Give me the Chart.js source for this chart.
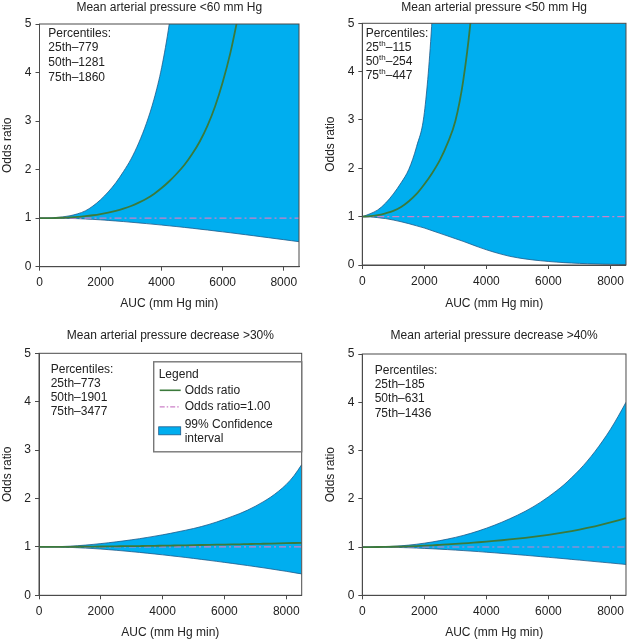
<!DOCTYPE html>
<html>
<head>
<meta charset="utf-8">
<script src="https://cdn.jsdelivr.net/npm/chart.js@4.4.1/dist/chart.umd.min.js"></script>
<style>
  body { margin: 0; background: #fff; }
  #wrap { position: relative; width: 629px; height: 640px; }
  .panel { position: absolute; }
</style>
</head>
<body>
<div id="wrap">
  <div class="panel" style="left:0;top:0;width:314px;height:320px"><canvas id="c1"></canvas></div>
  <div class="panel" style="left:314px;top:0;width:315px;height:320px"><canvas id="c2"></canvas></div>
  <div class="panel" style="left:0;top:320px;width:314px;height:320px"><canvas id="c3"></canvas></div>
  <div class="panel" style="left:314px;top:320px;width:315px;height:320px"><canvas id="c4"></canvas></div>
</div>
<script>
// AUC grid (mm Hg min) shared by all four panels
const auc = [0, 250, 500, 750, 1000, 1250, 1500, 1750, 2000, 2250, 2500, 2750, 3000, 3250, 3500, 3750, 4000,
  4250, 4500, 4750, 5000, 5250, 5500, 5750, 6000, 6250, 6500, 6750, 7000, 7250, 7500, 7750, 8000, 8250, 8500];

// MAP < 60 mm Hg
const below60Odds = [1, 1, 1.003, 1.008, 1.015, 1.025, 1.04, 1.06, 1.085, 1.115, 1.15, 1.195, 1.25, 1.32, 1.4, 1.5, 1.62,
  1.76, 1.92, 2.1, 2.32, 2.58, 2.9, 3.3, 3.8, 4.4, 5.15, 6.0, 7.1, 8.4, 10, 12, 14.5, 17.5, 21];
const below60Upper = [1, 1, 1.01, 1.025, 1.05, 1.09, 1.15, 1.25, 1.38, 1.54, 1.73, 1.96, 2.22, 2.55, 2.95, 3.45, 4.1,
  5.0, 6.2, 7.8, 10, 13, 17, 22, 28, 36, 46, 58, 73, 92, 115, 145, 180, 225, 280];
const below60Lower = [1, 1, 0.999, 0.997, 0.994, 0.99, 0.983, 0.975, 0.965, 0.954, 0.942, 0.93, 0.916, 0.902, 0.888, 0.873, 0.858,
  0.842, 0.826, 0.809, 0.792, 0.774, 0.756, 0.737, 0.718, 0.699, 0.679, 0.659, 0.639, 0.618, 0.598, 0.577, 0.557, 0.536, 0.515];

// MAP < 50 mm Hg
const below50Odds = [1, 1.01, 1.03, 1.07, 1.12, 1.2, 1.32, 1.47, 1.67, 1.9, 2.17, 2.52, 2.98, 3.8, 5.1, 7.0, 9.5,
  12.5, 16.5, 21, 27, 34, 43, 54, 68, 85, 105, 130, 160, 200, 250, 310, 380, 470, 580];
const below50Upper = [1, 1.06, 1.14, 1.28, 1.47, 1.7, 1.98, 2.45, 3.15, 5.1, 8.5, 13.5, 20, 28, 40, 55, 70,
  90, 110, 135, 160, 190, 220, 260, 300, 350, 400, 450, 500, 560, 620, 680, 750, 820, 900];
const below50Lower = [1, 0.995, 0.98, 0.96, 0.93, 0.895, 0.855, 0.81, 0.765, 0.71, 0.655, 0.6, 0.545, 0.49, 0.43, 0.37, 0.315,
  0.265, 0.22, 0.18, 0.15, 0.125, 0.105, 0.088, 0.073, 0.06, 0.049, 0.04, 0.033, 0.027, 0.022, 0.018, 0.015, 0.012, 0.01];

// MAP decrease > 30%
const drop30Odds = [1, 1, 1, 1.001, 1.002, 1.003, 1.004, 1.006, 1.008, 1.01, 1.012, 1.014, 1.016, 1.018, 1.02, 1.023, 1.025,
  1.028, 1.03, 1.033, 1.036, 1.039, 1.042, 1.045, 1.048, 1.051, 1.054, 1.058, 1.061, 1.065, 1.069, 1.073, 1.077, 1.081, 1.085];
const drop30Upper = [1, 1, 1.003, 1.008, 1.015, 1.025, 1.037, 1.052, 1.068, 1.086, 1.105, 1.125, 1.147, 1.17, 1.195, 1.222, 1.25,
  1.28, 1.313, 1.345, 1.38, 1.42, 1.465, 1.515, 1.57, 1.63, 1.69, 1.76, 1.84, 1.93, 2.03, 2.15, 2.29, 2.47, 2.7];
const drop30Lower = [1, 1, 0.998, 0.994, 0.99, 0.983, 0.975, 0.966, 0.955, 0.943, 0.93, 0.916, 0.901, 0.886, 0.87, 0.853, 0.836,
  0.818, 0.8, 0.781, 0.762, 0.742, 0.722, 0.701, 0.68, 0.659, 0.637, 0.615, 0.592, 0.569, 0.545, 0.52, 0.495, 0.468, 0.442];

// MAP decrease > 40%
const drop40Odds = [1, 1, 1.001, 1.003, 1.006, 1.01, 1.015, 1.021, 1.028, 1.036, 1.045, 1.054, 1.064, 1.075, 1.087, 1.099, 1.112,
  1.126, 1.141, 1.157, 1.174, 1.192, 1.211, 1.232, 1.254, 1.278, 1.304, 1.332, 1.362, 1.395, 1.43, 1.468, 1.509, 1.553, 1.6];
const drop40Upper = [1, 1, 1.002, 1.007, 1.015, 1.026, 1.04, 1.058, 1.08, 1.105, 1.133, 1.165, 1.2, 1.24, 1.285, 1.335, 1.39,
  1.45, 1.515, 1.585, 1.66, 1.74, 1.83, 1.93, 2.04, 2.16, 2.29, 2.44, 2.6, 2.78, 2.98, 3.2, 3.44, 3.71, 4.0];
const drop40Lower = [1, 1, 0.999, 0.997, 0.994, 0.99, 0.985, 0.979, 0.972, 0.964, 0.956, 0.947, 0.937, 0.927, 0.916, 0.905, 0.893,
  0.881, 0.868, 0.855, 0.842, 0.829, 0.815, 0.801, 0.787, 0.773, 0.759, 0.744, 0.729, 0.714, 0.699, 0.684, 0.669, 0.654, 0.639];

// reference line, odds ratio = 1.00
const refAuc = [0, 8500];
const refOdds = [1, 1];

const xTickValues = [0, 2000, 4000, 6000, 8000];

// percentile notes
const pctRanks = ['25', '50', '75'];
const below60Pct = ['779', '1281', '1860'];
const below50Pct = ['115', '254', '447'];
const drop30Pct = ['773', '1901', '3477'];
const drop40Pct = ['185', '631', '1436'];

const legendTitle = 'Legend';
const legendLabels = ['Odds ratio', 'Odds ratio=1.00', '99% Confidence', 'interval'];

const FONT = '"Liberation Sans", Arial, Helvetica, sans-serif';
const BLUE = '#00aeef';
const EDGE = '#1d5a8a';
const GREEN = '#3b7a3b';
const PINK = '#cc80c8';
const AXIS = '#4a4a4a';
const TEXT = '#222';

Chart.defaults.font.family = FONT;
Chart.defaults.font.size = 12;
Chart.defaults.color = TEXT;

function pts(xs, ys) {
  return xs.map((x, i) => ({ x: x, y: ys[i] }));
}

// box round the plot area
const frame = {
  id: 'frame',
  afterDatasetsDraw(chart) {
    const { ctx, chartArea: a } = chart;
    ctx.save();
    ctx.strokeStyle = AXIS;
    ctx.lineWidth = 1;
    ctx.strokeRect(a.left, a.top, a.right - a.left, a.bottom - a.top);
    ctx.restore();
  }
};

// "Percentiles:" block in the upper left corner
const notes = {
  id: 'notes',
  afterDatasetsDraw(chart, args, opts) {
    const { ctx, chartArea: a } = chart;
    const x = a.left + opts.dx;
    const y = a.top + opts.dy;
    ctx.save();
    ctx.fillStyle = TEXT;
    ctx.textBaseline = 'middle';
    ctx.font = '12px ' + FONT;
    ctx.fillText('Percentiles:', x, y);
    opts.values.forEach((v, i) => {
      const yy = y + (i + 1) * opts.gap;
      let cx = x;
      ctx.font = '12px ' + FONT;
      ctx.fillText(pctRanks[i], cx, yy);
      cx += ctx.measureText(pctRanks[i]).width;
      if (opts.sup) {
        ctx.font = '8px ' + FONT;
        ctx.fillText('th', cx, yy - 4);
        cx += ctx.measureText('th').width;
        ctx.font = '12px ' + FONT;
      } else {
        ctx.fillText('th', cx, yy);
        cx += ctx.measureText('th').width;
      }
      ctx.fillText('\u2013' + v, cx, yy);
    });
    ctx.restore();
  }
};

// boxed legend in the lower left panel
const legendBox = {
  id: 'legendBox',
  afterDraw(chart) {
    const { ctx, chartArea: a } = chart;
    const bw = 148, bh = 90;
    const bx = a.right - bw, by = a.top + 8.5;
    ctx.save();
    ctx.fillStyle = '#fff';
    ctx.fillRect(bx, by, bw, bh);
    ctx.strokeStyle = '#777';
    ctx.lineWidth = 1.4;
    ctx.strokeRect(bx, by, bw, bh);

    ctx.fillStyle = TEXT;
    ctx.textBaseline = 'middle';
    ctx.font = '12px ' + FONT;
    ctx.fillText(legendTitle, bx + 5, by + 12.5);

    ctx.strokeStyle = GREEN;
    ctx.lineWidth = 1.6;
    ctx.beginPath(); ctx.moveTo(bx + 6, by + 28.5); ctx.lineTo(bx + 27, by + 28.5); ctx.stroke();
    ctx.fillText(legendLabels[0], bx + 31, by + 28.5);

    ctx.strokeStyle = PINK;
    ctx.lineWidth = 1.2;
    ctx.setLineDash([5, 2, 1.5, 2]);
    ctx.beginPath(); ctx.moveTo(bx + 6, by + 45); ctx.lineTo(bx + 27, by + 45); ctx.stroke();
    ctx.setLineDash([]);
    ctx.fillText(legendLabels[1], bx + 31, by + 45);

    ctx.fillStyle = BLUE;
    ctx.fillRect(bx + 5, by + 65, 22, 8);
    ctx.strokeStyle = EDGE;
    ctx.lineWidth = 0.8;
    ctx.strokeRect(bx + 5, by + 65, 22, 8);
    ctx.fillStyle = TEXT;
    ctx.fillText(legendLabels[2], bx + 31, by + 62.5);
    ctx.fillText(legendLabels[3], bx + 31, by + 76.5);
    ctx.restore();
  }
};

function newChart(id, o) {
  return new Chart(id, {
    type: 'line',
    data: {
      datasets: [
        { label: 'Odds ratio', data: pts(auc, o.odds), borderColor: GREEN, borderWidth: 1.8 },
        { label: 'Odds ratio=1.00', data: pts(refAuc, refOdds), borderColor: PINK, borderWidth: 1.1,
          borderDash: [7, 3, 2, 3], cubicInterpolationMode: 'default', tension: 0 },
        { label: 'upper', data: pts(auc, o.upper), borderColor: EDGE, borderWidth: 0.8,
          backgroundColor: BLUE, fill: '+1' },
        { label: 'lower', data: pts(auc, o.lower), borderColor: EDGE, borderWidth: 0.8 }
      ]
    },
    options: {
      responsive: true,
      maintainAspectRatio: false,
      animation: false,
      layout: { padding: o.pad },
      elements: {
        point: { radius: 0 },
        line: { cubicInterpolationMode: 'monotone', fill: false }
      },
      plugins: {
        legend: { display: false },
        tooltip: { enabled: false },
        filler: { drawTime: 'beforeDatasetsDraw' },
        title: {
          display: true, text: o.title, fullSize: false, color: TEXT,
          font: { size: 12, weight: 'normal' }, padding: o.titlePad
        },
        notes: o.notes
      },
      scales: {
        x: {
          type: 'linear', min: 0, max: 8500,
          afterFit: s => { s.height = o.xH; },
          afterBuildTicks: s => { s.ticks = xTickValues.map(v => ({ value: v })); },
          grid: { drawOnChartArea: false, drawTicks: true, tickLength: 4, color: AXIS },
          border: { display: true, color: AXIS, width: 1 },
          ticks: { maxRotation: 0, autoSkip: false, padding: 5, color: TEXT, callback: v => String(v) },
          title: { display: true, text: 'AUC (mm Hg min)', color: TEXT, padding: { top: 0, bottom: o.xTitlePad } }
        },
        y: {
          min: 0, max: 5,
          afterFit: s => { s.width = o.yW; },
          grid: { drawOnChartArea: false, drawTicks: true, tickLength: 4, color: AXIS },
          border: { display: true, color: AXIS, width: 1 },
          ticks: { stepSize: 1, padding: 4, color: TEXT },
          title: { display: true, text: 'Odds ratio', color: TEXT, padding: { top: 0, bottom: 0 } }
        }
      }
    },
    plugins: o.legend ? [frame, notes, legendBox] : [frame, notes]
  });
}

newChart('c1', {
  title: 'Mean arterial pressure <60 mm Hg',
  odds: below60Odds, upper: below60Upper, lower: below60Lower,
  pad: { left: 0, right: 15, top: 0, bottom: 0 },
  titlePad: { top: 0, bottom: 9.6 },
  yW: 39.5, xH: 53.3, xTitlePad: 8.8,
  notes: { values: below60Pct, dx: 8.8, dy: 9.3, gap: 14.7, sup: false }
});

newChart('c2', {
  title: 'Mean arterial pressure <50 mm Hg',
  odds: below50Odds, upper: below50Upper, lower: below50Lower,
  pad: { left: 9, right: 1.7, top: 0, bottom: 0 },
  titlePad: { top: 0, bottom: 8.9 },
  yW: 39.3, xH: 55, xTitlePad: 8.8,
  notes: { values: below50Pct, dx: 3.4, dy: 10, gap: 14.2, sup: true }
});

newChart('c3', {
  title: 'Mean arterial pressure decrease >30%',
  odds: drop30Odds, upper: drop30Upper, lower: drop30Lower,
  pad: { left: 0, right: 12.3, top: 8, bottom: 0 },
  titlePad: { top: 0, bottom: 10.9 },
  yW: 39, xH: 44.7, xTitlePad: 0.5,
  notes: { values: drop30Pct, dx: 11.7, dy: 16, gap: 14.1, sup: false },
  legend: true
});

newChart('c4', {
  title: 'Mean arterial pressure decrease >40%',
  odds: drop40Odds, upper: drop40Upper, lower: drop40Lower,
  pad: { left: 9, right: 0.7, top: 8, bottom: 0 },
  titlePad: { top: 0, bottom: 11.6 },
  yW: 39.3, xH: 44.7, xTitlePad: 0.5,
  notes: { values: drop40Pct, dx: 12.4, dy: 16.7, gap: 14.2, sup: false }
});
</script>
</body>
</html>
